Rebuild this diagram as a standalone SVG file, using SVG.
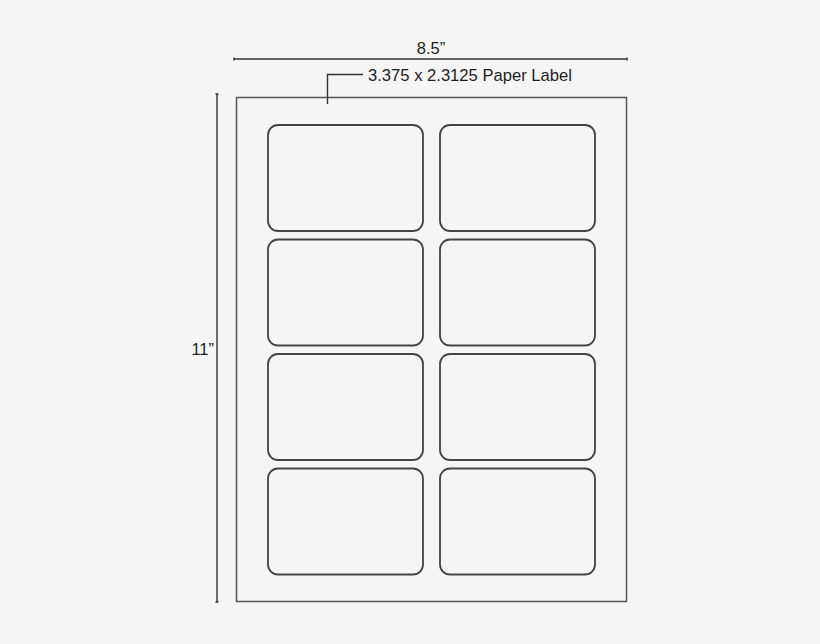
<svg xmlns="http://www.w3.org/2000/svg" width="820" height="644" viewBox="0 0 820 644">
<style>
.lbl{fill:none;stroke:#444;stroke-width:1.8}
.dim{stroke:#333;stroke-width:1.4;fill:none}
.sheet{fill:none;stroke:#555;stroke-width:1.5}
text{font-family:"Liberation Sans",Arial,sans-serif;fill:#1e1e1e}
</style>
<rect width="820" height="644" fill="#f5f5f5"/>
<g id="sheet"><rect class="sheet" x="236.5" y="97.5" width="390" height="504"/></g>
<g id="labels">
<rect id="l1" class="lbl" x="268" y="125" width="155" height="106" rx="10"/>
<rect id="l2" class="lbl" x="440" y="125" width="155" height="106" rx="10"/>
<rect id="l3" class="lbl" x="268" y="239.5" width="155" height="106" rx="10"/>
<rect id="l4" class="lbl" x="440" y="239.5" width="155" height="106" rx="10"/>
<rect id="l5" class="lbl" x="268" y="354" width="155" height="106" rx="10"/>
<rect id="l6" class="lbl" x="440" y="354" width="155" height="106" rx="10"/>
<rect id="l7" class="lbl" x="268" y="468.5" width="155" height="106" rx="10"/>
<rect id="l8" class="lbl" x="440" y="468.5" width="155" height="106" rx="10"/>
</g>
<g id="connectors">
<path class="dim" d="M234 59H627M234 57.5V60.5M627 57.5V60.5"/>
<path class="dim" d="M217 94V602M215.5 94H218.5M215.5 602H218.5"/>
<path class="dim" d="M327.5 104V74.5H363"/>
</g>
<g id="texts">
<text x="431" y="54" font-size="16.5" text-anchor="middle">8.5”</text>
<text x="368" y="81" font-size="16.6">3.375 x 2.3125 Paper Label</text>
<text x="214" y="355" font-size="16.5" text-anchor="end">11”</text>
</g>
</svg>
